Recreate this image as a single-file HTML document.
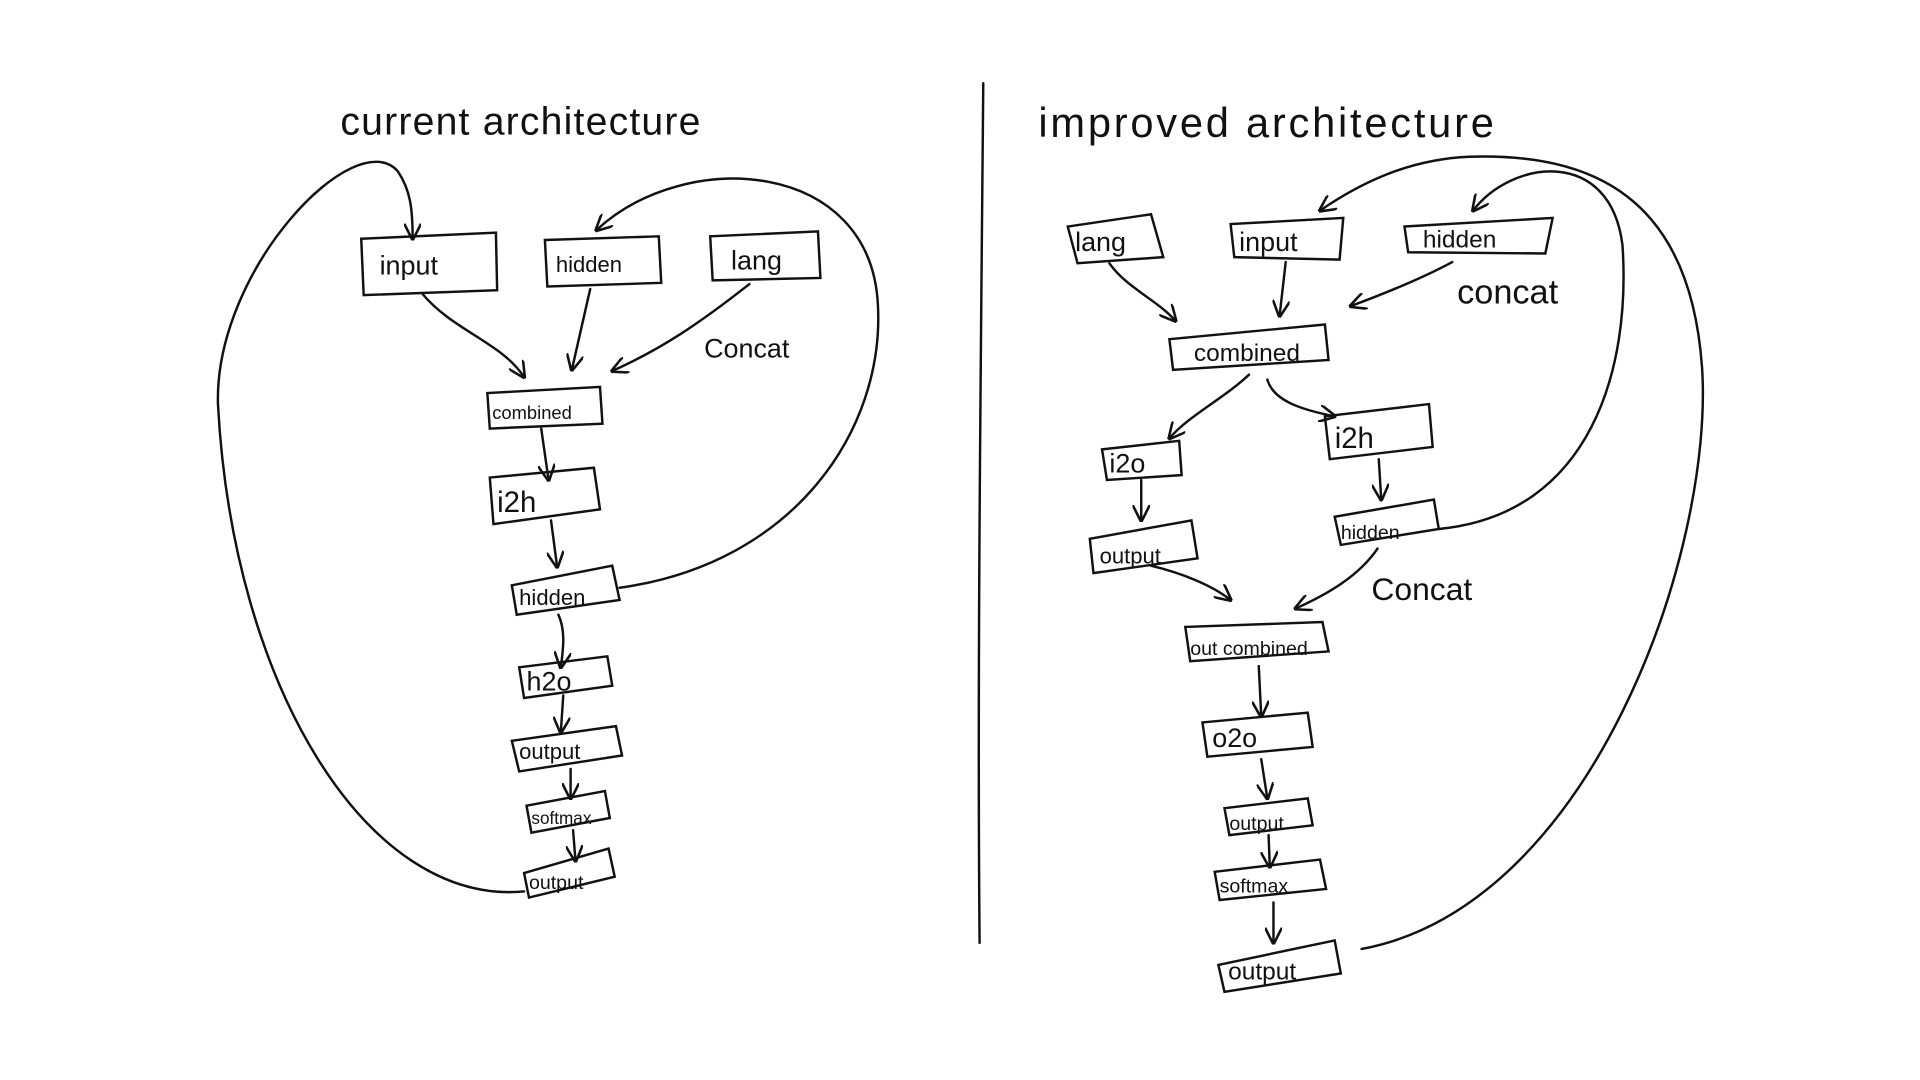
<!DOCTYPE html>
<html><head><meta charset="utf-8"><style>
html,body{margin:0;padding:0;background:#fff;width:1920px;height:1080px;overflow:hidden}
svg{display:block}
text{font-family:"Liberation Sans",sans-serif;fill:#111}
</style></head><body>
<svg width="1920" height="1080" viewBox="0 0 1568 882" xmlns="http://www.w3.org/2000/svg">
<defs><marker id="a" viewBox="0 0 10 10" refX="9" refY="5" markerWidth="7" markerHeight="7" orient="auto-start-reverse"><path d="M0,0 L10,5 L0,10" fill="none" stroke="#111" stroke-width="1.5"/></marker></defs>
<g fill="none" stroke="#111" stroke-width="2" stroke-linecap="round">
<!-- left boxes -->
<path d="M295,195 L405,190 L406,237 L297,241 Z"/>
<path d="M445,196 L538,193 L540,231 L447,234 Z"/>
<path d="M580,193 L668,189 L670,227 L582,229 Z"/>
<path d="M398,321 L490,316 L492,346 L400,350 Z"/>
<path d="M400,390 L485,382 L490,416 L403,428 Z"/>
<path d="M418,478 L500,462 L506,490 L422,502 Z"/>
<path d="M424,545 L496,536 L500,560 L428,570 Z"/>
<path d="M418,605 L503,593 L508,617 L424,630 Z"/>
<path d="M430,658 L494,646 L498,668 L434,680 Z"/>
<path d="M428,713 L497,693 L502,716 L432,733 Z"/>
<!-- left arrows -->
<path d="M345,240 C370,270 410,280 428,308" marker-end="url(#a)"/>
<path d="M482,236 L467,302" marker-end="url(#a)"/>
<path d="M612,232 C570,265 540,285 500,303" marker-end="url(#a)"/>
<path d="M442,350 L448,392" marker-end="url(#a)"/>
<path d="M450,425 L455,463" marker-end="url(#a)"/>
<path d="M456,502 C462,515 460,530 458,545" marker-end="url(#a)"/>
<path d="M460,568 L458,598" marker-end="url(#a)"/>
<path d="M466,628 L466,652" marker-end="url(#a)"/>
<path d="M468,678 L470,703" marker-end="url(#a)"/>
<path d="M428,728 C300,740 190,560 178,330 C175,220 290,100 325,140 C335,155 337,170 337,195" marker-end="url(#a)"/>
<path d="M506,480 C650,460 722,350 717,250 C712,130 560,120 487,188" marker-end="url(#a)"/>
<!-- divider -->
<path d="M803,68 C801,300 798,550 800,770"/>
<!-- right boxes -->
<path d="M872,185 L940,175 L950,210 L880,215 Z"/>
<path d="M1005,183 L1097,178 L1094,212 L1008,210 Z"/>
<path d="M1147,185 L1268,178 L1262,207 L1150,206 Z"/>
<path d="M955,277 L1082,265 L1085,294 L958,302 Z"/>
<path d="M900,367 L963,360 L965,388 L904,392 Z"/>
<path d="M1082,340 L1167,330 L1170,365 L1086,375 Z"/>
<path d="M890,440 L973,425 L978,456 L893,468 Z"/>
<path d="M1090,422 L1171,408 L1175,432 L1095,445 Z"/>
<path d="M968,512 L1080,508 L1085,532 L972,540 Z"/>
<path d="M982,590 L1068,582 L1072,610 L986,618 Z"/>
<path d="M1000,660 L1068,652 L1072,674 L1004,682 Z"/>
<path d="M992,712 L1078,702 L1083,726 L996,735 Z"/>
<path d="M995,788 L1090,768 L1095,795 L1000,810 Z"/>
<!-- right arrows -->
<path d="M906,215 C920,235 945,245 960,262" marker-end="url(#a)"/>
<path d="M1050,214 L1045,258" marker-end="url(#a)"/>
<path d="M1186,214 C1160,228 1130,240 1103,250" marker-end="url(#a)"/>
<path d="M1020,306 C1000,325 970,340 955,358" marker-end="url(#a)"/>
<path d="M1035,310 C1040,328 1065,335 1090,340" marker-end="url(#a)"/>
<path d="M932,392 L932,425" marker-end="url(#a)"/>
<path d="M1126,375 L1128,408" marker-end="url(#a)"/>
<path d="M940,462 C965,468 990,478 1005,490" marker-end="url(#a)"/>
<path d="M1125,448 C1110,470 1085,485 1058,497" marker-end="url(#a)"/>
<path d="M1028,544 L1030,585" marker-end="url(#a)"/>
<path d="M1030,620 L1035,652" marker-end="url(#a)"/>
<path d="M1036,682 L1037,708" marker-end="url(#a)"/>
<path d="M1040,737 L1040,770" marker-end="url(#a)"/>
<path d="M1175,432 C1300,420 1332,300 1325,200 C1315,120 1235,130 1203,172" marker-end="url(#a)"/>
<path d="M1112,775 C1300,740 1400,450 1390,300 C1380,160 1300,125 1200,128 C1150,130 1110,150 1078,172" marker-end="url(#a)"/>
</g>
<g font-size="18">
<text x="278" y="110" font-size="32" textLength="294">current architecture</text>
<text x="848" y="112" font-size="34" textLength="372">improved architecture</text>
<text x="310" y="224" font-size="22">input</text>
<text x="454" y="222">hidden</text>
<text x="597" y="220" font-size="22">lang</text>
<text x="575" y="292" font-size="22">Concat</text>
<text x="402" y="342" font-size="15">combined</text>
<text x="406" y="418" font-size="24">i2h</text>
<text x="424" y="494">hidden</text>
<text x="430" y="564" font-size="22">h2o</text>
<text x="424" y="620">output</text>
<text x="434" y="673" font-size="14">softmax</text>
<text x="432" y="726" font-size="16">output</text>
<text x="878" y="205" font-size="22">lang</text>
<text x="1012" y="205" font-size="22">input</text>
<text x="1162" y="202" font-size="20">hidden</text>
<text x="1190" y="248" font-size="28">concat</text>
<text x="975" y="295" font-size="20">combined</text>
<text x="906" y="386" font-size="22">i2o</text>
<text x="1090" y="366" font-size="24">i2h</text>
<text x="898" y="460">output</text>
<text x="1095" y="440" font-size="16">hidden</text>
<text x="1120" y="490" font-size="26">Concat</text>
<text x="972" y="535" font-size="16">out combined</text>
<text x="990" y="610" font-size="22">o2o</text>
<text x="1004" y="678" font-size="16">output</text>
<text x="996" y="729" font-size="16">softmax</text>
<text x="1003" y="800" font-size="20">output</text>
</g>
</svg>
</body></html>
